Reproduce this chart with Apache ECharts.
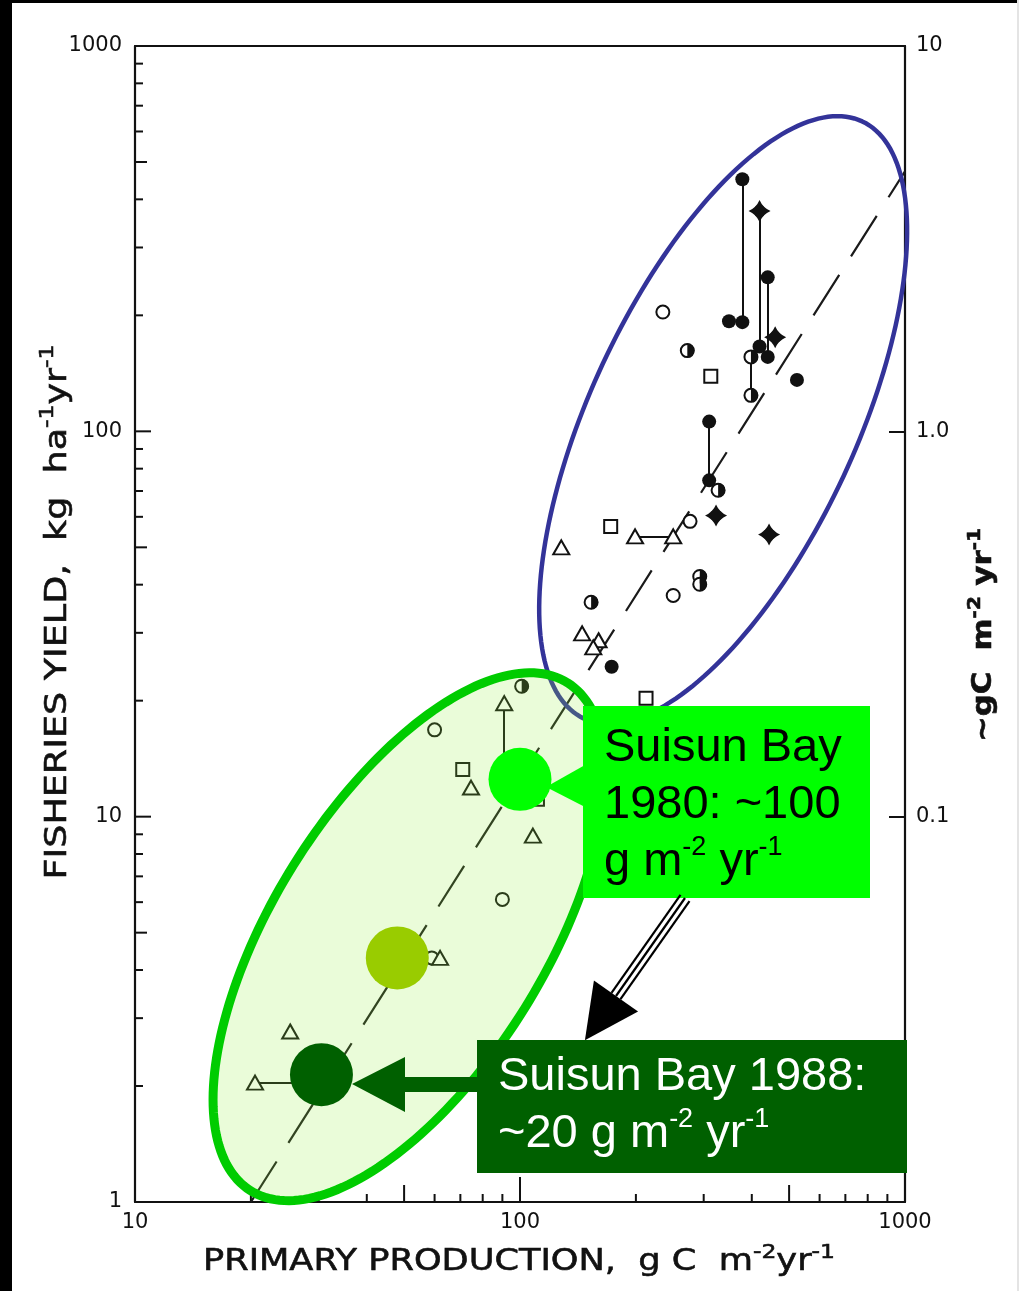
<!DOCTYPE html>
<html>
<head>
<meta charset="utf-8">
<script src="https://cdn.jsdelivr.net/npm/echarts@6/dist/echarts.min.js"></script>
<style>
  html, body { margin: 0; padding: 0; background: #fff; }
  #chart { width: 1019px; height: 1291px; }
</style>
</head>
<body>
<div id="chart"></div>
<script>
// ---- axis tick values ----
const xMinorTicks = [20, 30, 40, 60, 70, 80, 90, 200, 300, 400, 600, 700, 800, 900];
const xMidTicks = [50, 500];
const xMajorTicks = [100];
const yMinorTicks = [2, 3, 4, 6, 7, 8, 9, 20, 30, 40, 60, 70, 80, 90, 200, 300, 400, 600, 700, 800, 900];
const yMidTicks = [5, 50, 500];
const yMajorTicks = [10, 100];
const rightTickLabels = { '1': '10', '0': '1.0', '-1': '0.1' };

// ---- observations: [primary production gC/m2/yr, fisheries yield kg/ha/yr] ----
const filledCircles = [[378, 451], [378, 192], [349, 193], [419, 166], [440, 251], [440, 156],
  [524, 136], [310, 106], [310, 74.6], [173, 24.5]];
const halfCircles = [[272, 162], [327, 70.3], [153, 36], [101, 21.8], [293, 42], [293, 40.1],
  [398, 156], [398, 124]];
const starPoints = [[419, 373], [460, 175.5], [323, 60.5], [443.5, 54]];
const openCircles = [[235, 204], [276.5, 58.4], [250, 37.5], [60, 16.8], [90, 6.1], [59, 4.3]];
const openSquares = [[313, 139], [172, 56.6], [212.5, 20.3], [71, 13.25], [111, 11.1]];
const triangles = [[199, 53.4], [250, 53.4], [128, 50], [145, 29.9], [160, 28.7], [155, 27.5],
  [91, 19.7], [74.6, 11.9], [108, 8.93], [62, 4.3], [25.3, 2.77], [20.5, 2.04]];
// paired observations joined by a line
const connectors = [
  [[378, 451], [378, 192]], [[419, 373], [419, 166]], [[440, 251], [440, 156]],
  [[398, 156], [398, 124]], [[310, 106], [310, 74.6]], [[199, 53.4], [250, 53.4]],
  [[91, 19.7], [91, 13.2]], [[20.5, 2.04], [29.5, 2.04]]
];
// regression line
const fitLine = [[20, 1], [1000, 473]];

// ---- highlighted estimates ----
const suisun1980 = [100, 12.5];
const midEstimate = [48, 4.3];
const suisun1988 = [30.5, 2.14];

// ---- groupings: centre (data units), semi-axes (decades), tilt (degrees) ----
const upperGroup = [337, 107, 0.855, 0.345, 65];
const lowerGroup = [51.5, 4.88, 0.777, 0.353, 58];

const INK = '#111';
const TICK_FONT = 'DejaVu Sans';

const chart = echarts.init(document.getElementById('chart'), null, { renderer: 'canvas' });

function tickSeries(values, axis, len) {
  return {
    type: 'custom', silent: true, clip: false, z: 1,
    data: values.map(v => axis === 'x' ? [v, 1] : [10, v]),
    renderItem(params, api) {
      const p = api.coord([api.value(0), api.value(1)]);
      const shape = axis === 'x'
        ? { x1: p[0], y1: p[1], x2: p[0], y2: p[1] - len }
        : { x1: p[0], y1: p[1], x2: p[0] + len, y2: p[1] };
      return { type: 'line', shape, style: { stroke: INK, lineWidth: 2 } };
    }
  };
}

function ellipseSeries(params0, style, z) {
  return {
    type: 'custom', silent: true, clip: false, z,
    data: [params0],
    renderItem(params, api) {
      const cx = api.value(0), cy = api.value(1), a = api.value(2), b = api.value(3);
      const ang = api.value(4) * Math.PI / 180;
      const pts = [];
      const N = 200;
      for (let i = 0; i < N; i++) {
        const t = i / N * Math.PI * 2;
        const u = a * Math.cos(t), v = b * Math.sin(t);
        const dx = u * Math.cos(ang) - v * Math.sin(ang);
        const dy = u * Math.sin(ang) + v * Math.cos(ang);
        pts.push(api.coord([cx * Math.pow(10, dx), cy * Math.pow(10, dy)]));
      }
      return { type: 'polygon', shape: { points: pts }, style };
    }
  };
}

const openStyle = { color: '#fff', borderColor: INK, borderWidth: 2, opacity: 1 };
const solid = (color) => ({ color, opacity: 1 });

function markers(data, symbol, size, itemStyle, extra) {
  return Object.assign({ type: 'scatter', data, symbol, symbolSize: size, z: 3, silent: true,
    itemStyle, emphasis: { disabled: true } }, extra || {});
}

const option = {
  animation: false,
  backgroundColor: '#fff',
  grid: { left: 135, right: 114, top: 46, bottom: 89 },
  xAxis: [
    {
      type: 'log', min: 10, max: 1000, position: 'bottom',
      axisLine: { lineStyle: { color: INK, width: 2.2 } },
      axisTick: { show: false }, splitLine: { show: false },
      axisLabel: { color: INK, fontFamily: TICK_FONT, fontSize: 21, margin: 10, formatter: v => String(v) }
    },
    {
      type: 'log', min: 10, max: 1000, position: 'top',
      axisLine: { lineStyle: { color: INK, width: 2.2 } },
      axisTick: { show: false }, axisLabel: { show: false }, splitLine: { show: false }
    }
  ],
  yAxis: [
    {
      type: 'log', min: 1, max: 1000, position: 'left',
      axisLine: { lineStyle: { color: INK, width: 2.2 } },
      axisTick: { show: false }, splitLine: { show: false },
      axisLabel: { color: INK, fontFamily: TICK_FONT, fontSize: 21, margin: 13, formatter: v => String(v) }
    },
    {
      type: 'log', min: 0.01, max: 10, position: 'right',
      axisLine: { lineStyle: { color: INK, width: 2.2 } },
      axisTick: { show: true, inside: true, length: 16, lineStyle: { color: INK, width: 2 } },
      splitLine: { show: false },
      axisLabel: {
        color: INK, fontFamily: TICK_FONT, fontSize: 21, margin: 11,
        formatter: v => rightTickLabels[String(Math.round(Math.log10(v)))] || ''
      }
    }
  ],
  series: [
    tickSeries(xMinorTicks, 'x', 8),
    tickSeries(xMidTicks, 'x', 17),
    tickSeries(xMajorTicks, 'x', 25),
    tickSeries(yMinorTicks, 'y', 8),
    tickSeries(yMidTicks, 'y', 12),
    tickSeries(yMajorTicks, 'y', 16),
    {
      type: 'line', data: fitLine, showSymbol: false, silent: true, z: 2,
      lineStyle: { color: '#1a1a1a', width: 2.2, type: [48, 22], opacity: 1 }
    },
    {
      type: 'lines', coordinateSystem: 'cartesian2d', silent: true, z: 2,
      data: connectors.map(c => ({ coords: c })),
      lineStyle: { color: INK, width: 2, opacity: 1 }
    },
    markers(filledCircles, 'circle', 14, solid(INK)),
    markers(halfCircles, 'circle', 13, openStyle),
    markers(halfCircles, 'path://M0,0 A10,10 0 0,1 0,20 Z', [7, 14], solid(INK),
      { symbolOffset: [3.5, 0] }),
    markers(starPoints, 'circle', 12, solid(INK)),
    markers(starPoints, 'path://M0,-10 Q3,-3 10,0 Q3,3 0,10 Q-3,3 -10,0 Q-3,-3 0,-10 Z', 22, solid(INK)),
    markers(openCircles, 'circle', 13, openStyle),
    markers(openSquares, 'rect', 13, openStyle),
    markers(triangles, 'triangle', [16, 14], openStyle),
    ellipseSeries(upperGroup, { fill: 'none', stroke: '#333399', lineWidth: 4.5 }, 4),
    ellipseSeries(lowerGroup, { fill: 'rgba(150,240,65,0.2)', stroke: '#00CC00', lineWidth: 9 }, 5),
    markers([suisun1980], 'circle', 63, solid('#00FF00'), { z: 6 }),
    markers([midEstimate], 'circle', 63, solid('#99CC00'), { z: 6 }),
    markers([suisun1988], 'circle', 63, solid('#006000'), { z: 6 })
  ]
};
chart.setOption(option);

// ---- axis titles (stretched to the width of the original lettering) ----
const mctx = document.createElement('canvas').getContext('2d');
function widthOf(parts) {
  let w = 0;
  for (const [t, font] of parts) { mctx.font = font; w += mctx.measureText(t).width; }
  return w;
}
function titleText(segments, size, supSize, weight, span) {
  const fam = 'DejaVu Sans';
  const parts = segments.map(([t, sup]) => [t, `${weight} ${sup ? supSize : size}px "${fam}"`]);
  const scale = span / widthOf(parts);
  const text = segments.map(([t, sup]) => `{${sup ? 's' : 'n'}|${t}}`).join('');
  const rich = {
    n: { fontSize: size, fontFamily: fam, fontWeight: weight, fill: INK, lineHeight: size * 1.3,
         textStrokeWidth: 0.6, stroke: INK },
    s: { fontSize: supSize, fontFamily: fam, fontWeight: weight, fill: INK,
         lineHeight: supSize * 1.2, verticalAlign: 'top', stroke: INK, textStrokeWidth: 0.6 }
  };
  return { text, rich, scale };
}

const yTitle = titleText([['FISHERIES YIELD,  kg  ha', 0], ['-1', 1], ['yr', 0], ['-1', 1]],
  31, 20, 'normal', 535);
const xTitle = titleText([['PRIMARY PRODUCTION,  g C  m', 0], ['-2', 1], ['yr', 0], ['-1', 1]],
  30, 20, 'normal', 632);
const rTitle = titleText([['~gC  m', 0], ['-2', 1], [' yr', 0], ['-1', 1]],
  26, 17, 'bold', 214);

// ---- annotation callouts ----
const boxRich = (color) => ({
  n: { fontSize: 47, fontFamily: 'Liberation Sans', lineHeight: 57, fill: color },
  s: { fontSize: 27, fontFamily: 'Liberation Sans', lineHeight: 46, verticalAlign: 'top', fill: color }
});

// black hollow arrow between the two callouts
const aStart = [685, 898], aEnd = [616, 996];
const aLen = Math.hypot(aEnd[0] - aStart[0], aEnd[1] - aStart[1]);
const dir = [(aEnd[0] - aStart[0]) / aLen, (aEnd[1] - aStart[1]) / aLen];
const nrm = [dir[1], -dir[0]];
const shaftLines = [-5.5, 0, 5.5].map(o => ({
  type: 'line', z: 100, silent: true,
  shape: { x1: aStart[0] + nrm[0] * o, y1: aStart[1] + nrm[1] * o,
           x2: aEnd[0] + nrm[0] * o, y2: aEnd[1] + nrm[1] * o },
  style: { stroke: '#000', lineWidth: 2.2 }
}));
const headTip = [aEnd[0] + dir[0] * 54, aEnd[1] + dir[1] * 54];

chart.setOption({
  graphic: [
    // frame of the page
    { type: 'rect', z: 200, silent: true, shape: { x: 0, y: 0, width: 12, height: 1291 }, style: { fill: '#000' } },
    { type: 'rect', z: 200, silent: true, shape: { x: 0, y: 0, width: 1019, height: 3 }, style: { fill: '#000' } },
    { type: 'rect', z: 200, silent: true, shape: { x: 1017, y: 0, width: 2, height: 1291 }, style: { fill: '#e4e4e4' } },

    // axis titles
    { type: 'text', z: 50, silent: true, x: 58, y: 612, rotation: Math.PI / 2, scaleX: yTitle.scale,
      style: { text: yTitle.text, rich: yTitle.rich, align: 'center', verticalAlign: 'middle' } },
    { type: 'text', z: 50, silent: true, x: 519, y: 1262, scaleX: xTitle.scale,
      style: { text: xTitle.text, rich: xTitle.rich, align: 'center', verticalAlign: 'middle' } },
    { type: 'text', z: 50, silent: true, x: 984, y: 635, rotation: Math.PI / 2, scaleX: rTitle.scale,
      style: { text: rTitle.text, rich: rTitle.rich, align: 'center', verticalAlign: 'middle' } },

    // 1980 callout
    { type: 'polygon', z: 100, silent: true, shape: { points: [[585, 765], [585, 807], [546, 787]] },
      style: { fill: '#00FF00' } },
    { type: 'rect', z: 100, silent: true, shape: { x: 583, y: 706, width: 287, height: 192 },
      style: { fill: '#00FF00' } },
    { type: 'text', z: 101, silent: true, x: 604, y: 720,
      style: { text: '{n|Suisun Bay}\n{n|1980: ~100}\n{n|g m}{s|-2}{n| yr}{s|-1}',
               rich: boxRich('#000'), verticalAlign: 'top', align: 'left' } },

    // arrow from 1980 to 1988
    ...shaftLines,
    { type: 'polygon', z: 100, silent: true,
      shape: { points: [
        [aEnd[0] + nrm[0] * 27, aEnd[1] + nrm[1] * 27],
        headTip,
        [aEnd[0] - nrm[0] * 27, aEnd[1] - nrm[1] * 27]] },
      style: { fill: '#000' } },

    // 1988 callout
    { type: 'polygon', z: 100, silent: true,
      shape: { points: [[478, 1077], [405, 1077], [405, 1057], [352, 1084], [405, 1112], [405, 1092], [478, 1092]] },
      style: { fill: '#006000' } },
    { type: 'rect', z: 100, silent: true, shape: { x: 477, y: 1040, width: 430, height: 133 },
      style: { fill: '#006000' } },
    { type: 'text', z: 101, silent: true, x: 498, y: 1049,
      style: { text: '{n|Suisun Bay 1988:}\n{n|~20 g m}{s|-2}{n| yr}{s|-1}',
               rich: boxRich('#fff'), verticalAlign: 'top', align: 'left' } }
  ]
});
</script>
</body>
</html>
